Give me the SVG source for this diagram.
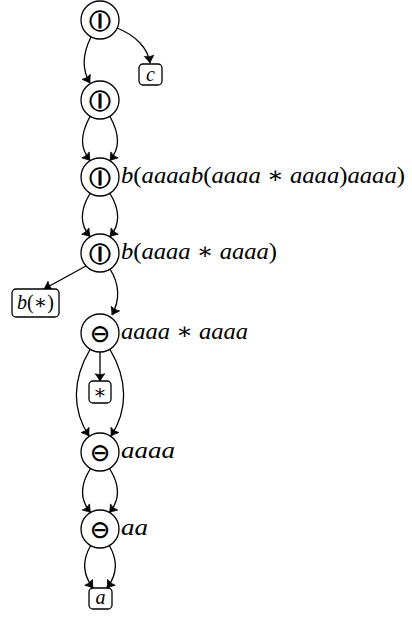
<svg xmlns="http://www.w3.org/2000/svg" width="412" height="617" viewBox="0 0 412 617">
<style>
.n{fill:#fff;stroke:#000;stroke-width:1.3}
.b{fill:#fff;stroke:#000;stroke-width:1.3}
.sym{font-family:"DejaVu Sans","DejaVu Sans Mono",sans-serif;font-weight:200;font-size:31px;text-anchor:middle;dominant-baseline:central}
.lbl{font-family:"Liberation Serif","DejaVu Serif",serif;font-style:italic;font-size:23px}
.up{font-style:normal}
.bl{font-family:"Liberation Serif","DejaVu Serif",serif;font-style:italic;font-size:20px;text-anchor:middle}
.e{fill:none;stroke:#000;stroke-width:1.3;marker-end:url(#ah)}
</style>
<defs>
<marker id="ah" markerUnits="userSpaceOnUse" markerWidth="12" markerHeight="12" viewBox="-7 -5 8 10" refX="0" refY="0" orient="auto">
<path d="M-6,-4 Q-2,-1 0,0 Q-2,1 -6,4 Q-4.5,0 -6,-4 Z" fill="#000" stroke="#000" stroke-width="0.6" stroke-linejoin="round"/>
</marker>
</defs>
<g id="edges">
<path class="e" d="M91,37 C82,55 82,70 90,83"/>
<path class="e" d="M117,28 C135,35 148,48 150,63"/>
<path class="e" d="M90,116.5 C80,135 80,148 90,160.5"/>
<path class="e" d="M110,116.5 C120,135 120,148 110,160.5"/>
<path class="e" d="M90,193.5 C80,210 80,225 90,236.5"/>
<path class="e" d="M110,193.5 C120,210 120,225 110,236.5"/>
<path class="e" d="M86,266 L44,289"/>
<path class="e" d="M110,269 C120,285 120,300 112,315"/>
<path class="e" d="M100,352 L100,381"/>
<path class="e" d="M90,349.5 C72,380 72,410 89,436"/>
<path class="e" d="M110,349.5 C128,380 128,410 111,436"/>
<path class="e" d="M90.5,468.5 C80,485 80,500 90.5,512.5"/>
<path class="e" d="M109.5,468.5 C120,485 120,500 109.5,512.5"/>
<path class="e" d="M91,545 C82,560 83,575 93,588"/>
<path class="e" d="M109,545 C118,560 117,575 107,588"/>
</g>
<g id="n1"><circle class="n" cx="100" cy="20" r="19"/><text class="sym" x="100" y="20">⦶</text></g>
<g id="nc"><rect class="b" x="139" y="64" width="23" height="21" rx="4"/><text class="bl" x="150.5" y="81">c</text></g>
<g id="n2"><circle class="n" cx="100" cy="100" r="19"/><text class="sym" x="100" y="100">⦶</text></g>
<g id="n3"><circle class="n" cx="100" cy="177" r="19"/><text class="sym" x="100" y="177">⦶</text>
<text class="lbl" x="121" y="183" textLength="284" lengthAdjust="spacingAndGlyphs">b<tspan class="up">(</tspan>aaaab<tspan class="up">(</tspan>aaaa <tspan class="up">∗</tspan> aaaa<tspan class="up">)</tspan>aaaa<tspan class="up">)</tspan></text></g>
<g id="n4"><circle class="n" cx="100" cy="253" r="19"/><text class="sym" x="100" y="253">⦶</text>
<text class="lbl" x="121" y="259" textLength="156" lengthAdjust="spacingAndGlyphs">b<tspan class="up">(</tspan>aaaa <tspan class="up">∗</tspan> aaaa<tspan class="up">)</tspan></text></g>
<g id="nb"><rect class="b" x="12" y="289" width="47" height="28" rx="4"/><text class="bl" x="35.5" y="309">b<tspan class="up">(∗)</tspan></text></g>
<g id="n5"><circle class="n" cx="100" cy="333" r="19"/><text class="sym" x="100" y="333">⊖</text>
<text class="lbl" x="121" y="339" textLength="127" lengthAdjust="spacingAndGlyphs">aaaa <tspan class="up">∗</tspan> aaaa</text></g>
<g id="ns"><rect class="b" x="89" y="381" width="22" height="22" rx="4"/><text class="bl up" x="100" y="399" style="font-style:normal">∗</text></g>
<g id="n6"><circle class="n" cx="100" cy="452" r="19"/><text class="sym" x="100" y="452">⊖</text>
<text class="lbl" x="121" y="458" textLength="54" lengthAdjust="spacingAndGlyphs">aaaa</text></g>
<g id="n7"><circle class="n" cx="100" cy="529" r="19"/><text class="sym" x="100" y="529">⊖</text>
<text class="lbl" x="121" y="535" textLength="27" lengthAdjust="spacingAndGlyphs">aa</text></g>
<g id="na"><rect class="b" x="89" y="588" width="23" height="21" rx="4"/><text class="bl" x="100.5" y="604">a</text></g>
</svg>
